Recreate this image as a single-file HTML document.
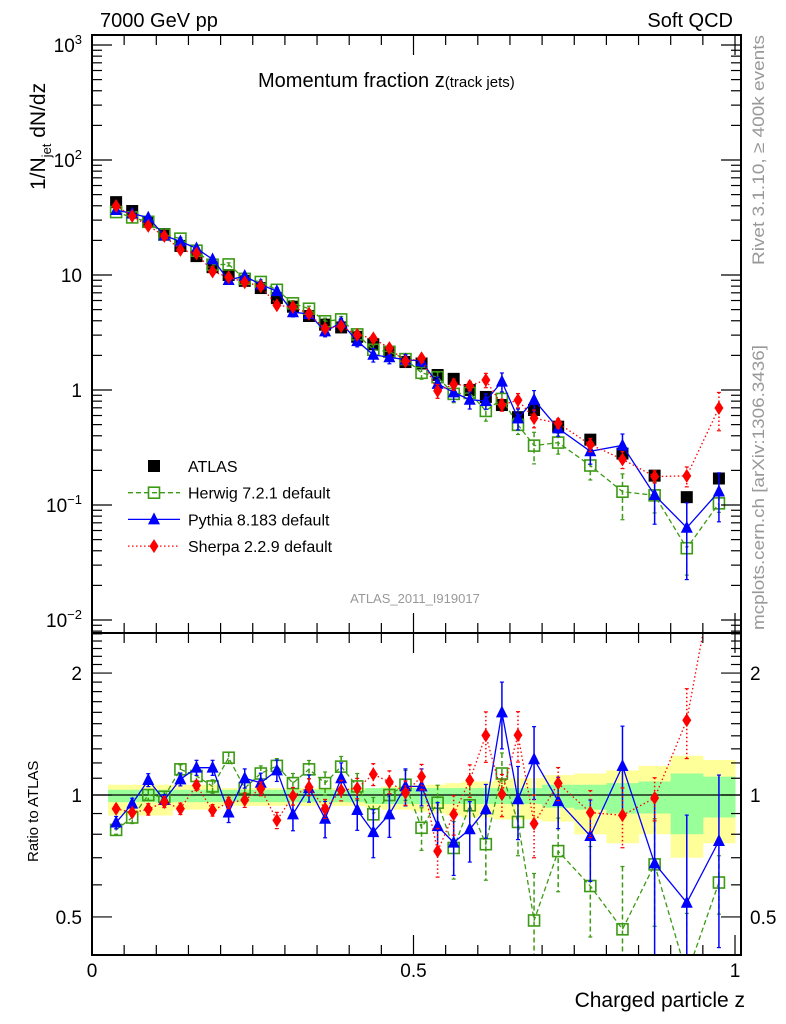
<!DOCTYPE html>
<html><head><meta charset="utf-8"><style>
html,body{margin:0;padding:0;background:#fff;width:786px;height:1024px;overflow:hidden;position:relative;}
svg{display:block;font-family:"Liberation Sans",sans-serif;}
</style></head><body>
<svg id="c" width="786" height="1024" viewBox="0 0 786 1024" style="position:absolute;left:0;top:0"></svg>
<script>
const zCenters=[0.0375,0.0625,0.0875,0.1125,0.1375,0.1625,0.1875,0.2125,0.2375,0.2625,0.2875,0.3125,0.3375,0.3625,0.3875,0.4125,0.4375,0.4625,0.4875,0.5125,0.5375,0.5625,0.5875,0.6125,0.6375,0.6625,0.6875,0.725,0.775,0.825,0.875,0.925,0.975];
const atlasVals=[43,36,29,22.7,17.9,14.6,11.7,10,8.9,7.7,6.3,5.3,4.4,3.7,3.5,2.9,2.5,2.15,1.75,1.7,1.35,1.25,1.0,0.87,0.74,0.58,0.67,0.48,0.37,0.28,0.18,0.117,0.17];
const herwigRatio=[0.82,0.88,1.0,0.99,1.157,1.114,1.05,1.236,1.04,1.13,1.18,1.07,1.157,1.07,1.175,1.05,0.896,1.0,1.06,0.83,0.957,0.74,0.943,0.756,1.13,0.858,0.49,0.727,0.596,0.466,0.674,0.36,0.608];
const pythiaRatio=[0.855,0.952,1.089,0.972,1.093,1.168,1.168,0.905,1.10,1.072,1.15,0.896,1.04,0.874,1.10,0.918,0.81,0.896,1.05,1.05,0.838,0.763,0.823,0.922,1.60,0.976,1.225,0.966,0.792,1.179,0.678,0.542,0.77];
const sherpaRatio=[0.925,0.905,0.922,0.961,0.925,1.056,0.917,0.957,0.972,1.036,0.866,0.994,1.046,0.925,1.027,1.039,1.125,1.077,1.013,1.11,0.727,0.896,1.087,1.404,1.004,1.406,0.85,1.069,0.905,0.891,0.983,1.53,4.1];
const pythiaErr=[0.03,0.03,0.04,0.03,0.04,0.05,0.05,0.05,0.06,0.06,0.07,0.08,0.08,0.09,0.1,0.1,0.11,0.11,0.11,0.11,0.12,0.13,0.14,0.14,0.3,0.2,0.25,0.14,0.18,0.3,0.3,0.35,0.35];
const herwigErr=[0.02,0.03,0.03,0.03,0.03,0.04,0.04,0.04,0.05,0.05,0.05,0.06,0.06,0.07,0.07,0.08,0.09,0.09,0.09,0.1,0.1,0.12,0.12,0.14,0.14,0.15,0.15,0.15,0.15,0.2,0.2,0.15,0.1];
const sherpaErr=[0.02,0.02,0.03,0.03,0.03,0.03,0.03,0.03,0.04,0.04,0.04,0.05,0.05,0.05,0.06,0.06,0.07,0.07,0.07,0.08,0.1,0.1,0.1,0.2,0.12,0.2,0.15,0.1,0.12,0.15,0.12,0.3,1.5];
const bandYUp=[1.06,1.06,1.06,1.06,1.06,1.06,1.06,1.04,1.04,1.04,1.04,1.04,1.04,1.04,1.04,1.04,1.04,1.05,1.05,1.06,1.06,1.07,1.08,1.08,1.09,1.10,1.10,1.12,1.13,1.15,1.18,1.25,1.22];
const bandYDn=[0.89,0.89,0.89,0.89,0.92,0.92,0.92,0.94,0.94,0.94,0.94,0.94,0.94,0.94,0.94,0.94,0.93,0.92,0.92,0.91,0.90,0.89,0.88,0.88,0.87,0.87,0.87,0.86,0.80,0.76,0.80,0.70,0.76];
const bandGUp=[1.03,1.03,1.03,1.03,1.03,1.03,1.03,1.03,1.03,1.03,1.03,1.03,1.03,1.03,1.03,1.03,1.04,1.04,1.04,1.04,1.04,1.04,1.04,1.04,1.04,1.04,1.04,1.06,1.06,1.07,1.08,1.13,1.11];
const bandGDn=[0.96,0.96,0.96,0.96,0.96,0.96,0.96,0.96,0.96,0.96,0.96,0.96,0.96,0.96,0.96,0.96,0.95,0.95,0.95,0.95,0.95,0.95,0.95,0.95,0.95,0.95,0.95,0.93,0.92,0.90,0.90,0.80,0.88];
const binEdges=[0.025,0.05,0.075,0.1,0.125,0.15,0.175,0.2,0.225,0.25,0.275,0.3,0.325,0.35,0.375,0.4,0.425,0.45,0.475,0.5,0.525,0.55,0.575,0.6,0.625,0.65,0.675,0.7,0.75,0.8,0.85,0.9,0.95,1.0];

const NS='http://www.w3.org/2000/svg';
const svg=document.getElementById('c');
const L=92,R=741,T=35,MB=633,RB=955;
const X=v=>L+v*643;
const Ym=v=>45+(3-Math.log10(v))*115;
const Yr=v=>795-Math.log10(v)*405;
function el(t,a,p){const e=document.createElementNS(NS,t);for(const k in a)e.setAttribute(k,a[k]);(p||svg).appendChild(e);return e;}
function txt(s,a,p){const e=el('text',a,p);e.textContent=s;return e;}

const defs=el('defs',{});
const c1=el('clipPath',{id:'cm'},defs);el('rect',{x:L,y:T,width:R-L,height:MB-T},c1);
const c2=el('clipPath',{id:'cr'},defs);el('rect',{x:L,y:MB,width:R-L,height:RB-MB},c2);

const gBand=el('g',{'clip-path':'url(#cr)'});


for(let i=0;i<zCenters.length;i++){
  const x0=X(binEdges[i]),x1=X(binEdges[i+1]);
  el('rect',{x:x0,y:Yr(bandYUp[i]),width:x1-x0+0.5,height:Yr(bandYDn[i])-Yr(bandYUp[i]),fill:'#ffff99'},gBand);
}
for(let i=0;i<zCenters.length;i++){
  const x0=X(binEdges[i]),x1=X(binEdges[i+1]);
  el('rect',{x:x0,y:Yr(bandGUp[i]),width:x1-x0+0.5,height:Yr(bandGDn[i])-Yr(bandGUp[i]),fill:'#99ff99'},gBand);
}
el('line',{x1:L,x2:R,y1:Yr(1),y2:Yr(1),stroke:'#000','stroke-width':1.2});

const series=[
 {name:'herwig',ratio:herwigRatio,err:herwigErr,col:'#3c9a14',dash:'5,3',mk:'osq'},
 {name:'pythia',ratio:pythiaRatio,err:pythiaErr,col:'#0000ff',dash:'',mk:'tri'},
 {name:'sherpa',ratio:sherpaRatio,err:sherpaErr,col:'#ff0000',dash:'1.5,2.5',mk:'dia'}];
function marker(g,mk,x,y,col){
  if(mk==='osq')return el('rect',{x:x-5.5,y:y-5.5,width:11,height:11,fill:'none',stroke:col,'stroke-width':1.6},g);
  if(mk==='tri')return el('polygon',{points:`${x},${y-7} ${x-6},${y+5} ${x+6},${y+5}`,fill:col},g);
  if(mk==='dia')return el('polygon',{points:`${x},${y-7} ${x-4.5},${y} ${x},${y+7} ${x+4.5},${y}`,fill:col},g);
  return el('rect',{x:x-6,y:y-6,width:12,height:12,fill:'#000'},g);
}
function drawSeries(s,panel){
  const g=el('g',{'clip-path':panel==='m'?'url(#cm)':'url(#cr)'});
  
  
  const Y=panel==='m'?Ym:Yr;
  const vals=s.ratio.map((r,i)=>panel==='m'?r*atlasVals[i]:r);
  const errs=s.err.map((e,i)=>panel==='m'?e*atlasVals[i]:e);
  let d='';
  vals.forEach((v,i)=>{d+=(i?'L':'M')+X(zCenters[i]).toFixed(1)+','+Y(v).toFixed(1);});
  el('path',{d,fill:'none',stroke:s.col,'stroke-width':1.3,'stroke-dasharray':s.dash},g);
  vals.forEach((v,i)=>{
    const x=X(zCenters[i]);const lo=Math.max(v-errs[i],1e-4);
    el('line',{x1:x,x2:x,y1:Y(v+errs[i]),y2:Y(lo),stroke:s.col,'stroke-width':1.5,'stroke-dasharray':s.dash},g);
    el('line',{x1:x-2,x2:x+2,y1:Y(v+errs[i]),y2:Y(v+errs[i]),stroke:s.col,'stroke-width':1.2},g);
    el('line',{x1:x-2,x2:x+2,y1:Y(lo),y2:Y(lo),stroke:s.col,'stroke-width':1.2},g);
    const m=marker(g,s.mk,x,Y(v),s.col);
    
    
  });
}
const gA=el('g',{'clip-path':'url(#cm)'});


atlasVals.forEach((v,i)=>{
  const m=marker(gA,'sq',X(zCenters[i]),Ym(v),'#000');
  
  
});
series.forEach(s=>{drawSeries(s,'m');drawSeries(s,'r');});

el('rect',{x:L,y:T,width:R-L,height:MB-T,fill:'none',stroke:'#000','stroke-width':2});
el('rect',{x:L,y:MB,width:R-L,height:RB-MB,fill:'none',stroke:'#000','stroke-width':2});
for(let e=-3;e<=3;e++){
  for(let k=1;k<=9;k++){
    const v=k*Math.pow(10,e);const y=Ym(v);if(y<T||y>MB)continue;
    const len=k===1?20:10;
    el('line',{x1:L,x2:L+len,y1:y,y2:y,stroke:'#000','stroke-width':1.2});
    el('line',{x1:R,x2:R-len,y1:y,y2:y,stroke:'#000','stroke-width':1.2});
  }
}
const yLabs=[['10','3',1000],['10','2',100],['10','',10],['1','',1],['10','−1',0.1],['10','−2',0.01]];
yLabs.forEach(l=>{
  const t=txt('',{x:82,y:Ym(l[2])+7,'text-anchor':'end','font-size':19});
  
  
  const a=el('tspan',{},t);a.textContent=l[0];
  if(l[1]){const b=el('tspan',{dy:-8,'font-size':13},t);b.textContent=l[1];}
});
for(let v=0.4;v<=2.55;v+=0.1){
  const vv=Math.round(v*10)/10;const y=Yr(vv);if(y<MB||y>RB)continue;
  const maj=(vv===0.5||vv===1||vv===2);const len=maj?20:10;
  el('line',{x1:L,x2:L+len,y1:y,y2:y,stroke:'#000','stroke-width':1.2});
  el('line',{x1:R,x2:R-len,y1:y,y2:y,stroke:'#000','stroke-width':1.2});
}
[['2',2],['1',1],['0.5',0.5]].forEach(l=>{
  const t=txt(l[0],{x:82,y:Yr(l[1])+7,'text-anchor':'end','font-size':19});
  
  const t2=txt(l[0],{x:750,y:Yr(l[1])+7,'text-anchor':'start','font-size':19});
  
});
for(let i=0;i<=20;i++){
  const v=i*0.05;const x=X(v);const maj=(i%10===0);const len=maj?20:10;
  [[T,1],[MB,-1],[MB,1],[RB,-1]].forEach(p=>el('line',{x1:x,x2:x,y1:p[0],y2:p[0]+p[1]*len,stroke:'#000','stroke-width':1.2}));
}
[['0',0],['0.5',0.5],['1',1]].forEach(l=>{
  const t=txt(l[0],{x:X(l[1]),y:977,'text-anchor':'middle','font-size':19});
  
});

const leg=[['ATLAS','sq','#000',''],['Herwig 7.2.1 default','osq','#3c9a14','5,3'],['Pythia 8.183 default','tri','#0000ff',''],['Sherpa 2.2.9 default','dia','#ff0000','1.5,2.5']];
leg.forEach((l,i)=>{
  const y=466+i*26.7;
  const g=el('g',{});
  
  
  if(i>0)el('line',{x1:128,x2:180,y1:y,y2:y,stroke:l[2],'stroke-width':1.3,'stroke-dasharray':l[3]},g);
  marker(g,l[1],154,y,l[2]);
  txt(l[0],{x:188,y:y+6,'font-size':16},g);
});
</script>
<svg width="786" height="1024" style="position:absolute;left:0;top:0;font-family:'Liberation Sans',sans-serif">
<text x="100" y="27" font-size="20">7000 GeV pp</text>
<text x="733" y="27" font-size="20" text-anchor="end">Soft QCD</text>
<text x="258" y="87" font-size="20">Momentum fraction z<tspan font-size="15">(track jets)</tspan></text>
<text transform="translate(45,190) rotate(-90)" font-size="21">1/N<tspan font-size="13" dy="6">jet</tspan><tspan dy="-6"> dN/dz</tspan></text>
<text transform="translate(38,862) rotate(-90)" font-size="15">Ratio to ATLAS</text>
<text transform="translate(764,265) rotate(-90)" font-size="17" fill="#999" textLength="230" lengthAdjust="spacingAndGlyphs">Rivet 3.1.10, ≥ 400k events</text>
<text transform="translate(764,630) rotate(-90)" font-size="17" fill="#999" textLength="285" lengthAdjust="spacingAndGlyphs">mcplots.cern.ch [arXiv:1306.3436]</text>
<text x="415" y="603" font-size="13" fill="#999" text-anchor="middle">ATLAS_2011_I919017</text>
<text x="745" y="1007" font-size="21" text-anchor="end">Charged particle z</text>
</svg>
</body></html>
